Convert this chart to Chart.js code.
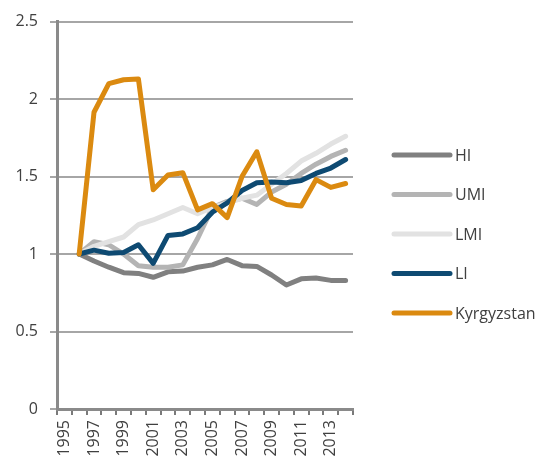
<!DOCTYPE html>
<html>
<head>
<meta charset="utf-8">
<script src="https://cdn.jsdelivr.net/npm/chart.js@4/dist/chart.umd.min.js"></script>
<style>
  html, body { margin: 0; padding: 0; background: #fff; }
  #wrap { width: 540px; height: 459px; position: relative; }
</style>
</head>
<body>
<div id="wrap"><canvas id="growth"></canvas></div>
<script>
// Years on the category axis (labels shown every other year)
const years = ["1995", "1996", "1997", "1998", "1999", "2000", "2001", "2002", "2003", "2004",
               "2005", "2006", "2007", "2008", "2009", "2010", "2011", "2012", "2013", "2014"];

// Index values, 1996 = 1
const hi = [null, 1.00, 0.955, 0.915, 0.88, 0.875, 0.85, 0.885, 0.89, 0.915,
            0.93, 0.965, 0.925, 0.92, 0.865, 0.80, 0.84, 0.845, 0.83, 0.83];
const umi = [null, 1.00, 1.08, 1.06, 1.00, 0.925, 0.915, 0.915, 0.93, 1.10,
             1.30, 1.34, 1.36, 1.32, 1.40, 1.45, 1.52, 1.58, 1.63, 1.67];
const lmi = [null, 1.00, 1.05, 1.08, 1.11, 1.19, 1.22, 1.26, 1.30, 1.26,
             1.30, 1.33, 1.36, 1.38, 1.45, 1.52, 1.60, 1.65, 1.71, 1.76];
const li = [null, 1.00, 1.025, 1.005, 1.01, 1.06, 0.94, 1.12, 1.13, 1.17,
            1.27, 1.33, 1.41, 1.46, 1.465, 1.46, 1.475, 1.52, 1.555, 1.61];
const kgz = [null, 1.00, 1.915, 2.10, 2.125, 2.13, 1.415, 1.51, 1.525, 1.285,
             1.325, 1.235, 1.50, 1.66, 1.36, 1.32, 1.31, 1.48, 1.43, 1.455];

const seriesNames = ["HI", "UMI", "LMI", "LI", "Kyrgyzstan"];
const seriesColors = ["#808080", "#b4b4b4", "#e2e2e2", "#0e4a72", "#db8a10"];
const seriesData = [hi, umi, lmi, li, kgz];

const FONT = { family: "'Open Sans', sans-serif", size: 16 };
const TEXT = "#404040";

// legend drawn by hand to the right of the plot
const sideLegend = {
  id: "sideLegend",
  afterDraw(chart) {
    const ctx = chart.ctx;
    ctx.save();
    ctx.font = FONT.size + "px " + FONT.family;
    ctx.textBaseline = "middle";
    ctx.textAlign = "left";
    seriesNames.forEach((name, i) => {
      const y = 155 + i * 39.5;
      ctx.strokeStyle = seriesColors[i];
      ctx.lineWidth = 5;
      ctx.lineCap = "round";
      ctx.beginPath();
      ctx.moveTo(394, y);
      ctx.lineTo(450, y);
      ctx.stroke();
      ctx.fillStyle = TEXT;
      ctx.fillText(name, 455, y + 1);
    });
    ctx.restore();
  }
};

new Chart(document.getElementById("growth"), {
  type: "line",
  data: {
    labels: years,
    datasets: seriesData.map((d, i) => ({
      label: seriesNames[i],
      data: d,
      borderColor: seriesColors[i],
      backgroundColor: seriesColors[i],
      borderWidth: 5,
      pointRadius: 0,
      tension: 0,
      borderJoinStyle: "round",
      borderCapStyle: "round",
      order: seriesNames.length - i
    }))
  },
  options: {
    responsive: true,
    maintainAspectRatio: false,
    animation: false,
    layout: { padding: { top: 13, right: 187, left: 0, bottom: 0 } },
    plugins: {
      legend: { display: false },
      tooltip: { enabled: false }
    },
    scales: {
      x: {
        offset: true,
        grid: {
          offset: true,
          drawOnChartArea: false,
          drawTicks: true,
          tickLength: 6,
          color: "#7a7a7a",
          lineWidth: 2
        },
        border: { color: "#8a8a8a", width: 3 },
        ticks: {
          autoSkip: false,
          minRotation: 90,
          maxRotation: 90,
          padding: 5,
          color: TEXT,
          font: FONT,
          callback: function (v, i) { return i % 2 === 0 ? years[i] : ""; }
        },
        afterFit(scale) { scale.height = 50; }
      },
      y: {
        min: 0,
        max: 2.5,
        grid: {
          color: "#a6a6a6",
          lineWidth: 2,
          tickLength: 7,
          drawTicks: true
        },
        border: { color: "#8a8a8a", width: 3 },
        ticks: {
          stepSize: 0.5,
          padding: 12,
          color: TEXT,
          font: FONT,
          callback: v => String(v)
        },
        afterFit(scale) { scale.width = 57; }
      }
    }
  },
  plugins: [sideLegend]
});
</script>
</body>
</html>
